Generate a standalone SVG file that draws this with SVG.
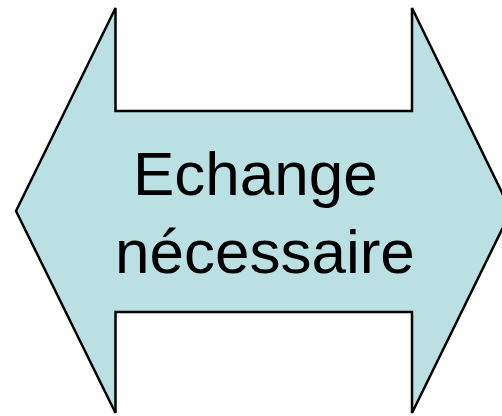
<svg xmlns="http://www.w3.org/2000/svg" width="502" height="416" viewBox="0 0 502 416">
<style>
.shape{fill:#BBE0E3;stroke:#000;stroke-width:2.5;stroke-linejoin:miter}
.lbl{font-family:"Liberation Sans",Arial,sans-serif;font-size:62px;fill:#000}
</style>
<rect width="502" height="416" fill="#fff"/>
<g id="arrow">
<polygon class="shape" points="16,211 115.5,8 115.5,111 412,111 412,8 511,211 412,413 412,312 115.5,312 115.5,413"/>
<text class="lbl" x="133" y="195">Echange</text>
<text class="lbl" x="115" y="273">nécessaire</text>
</g>
<g id="connectors"/>
</svg>
